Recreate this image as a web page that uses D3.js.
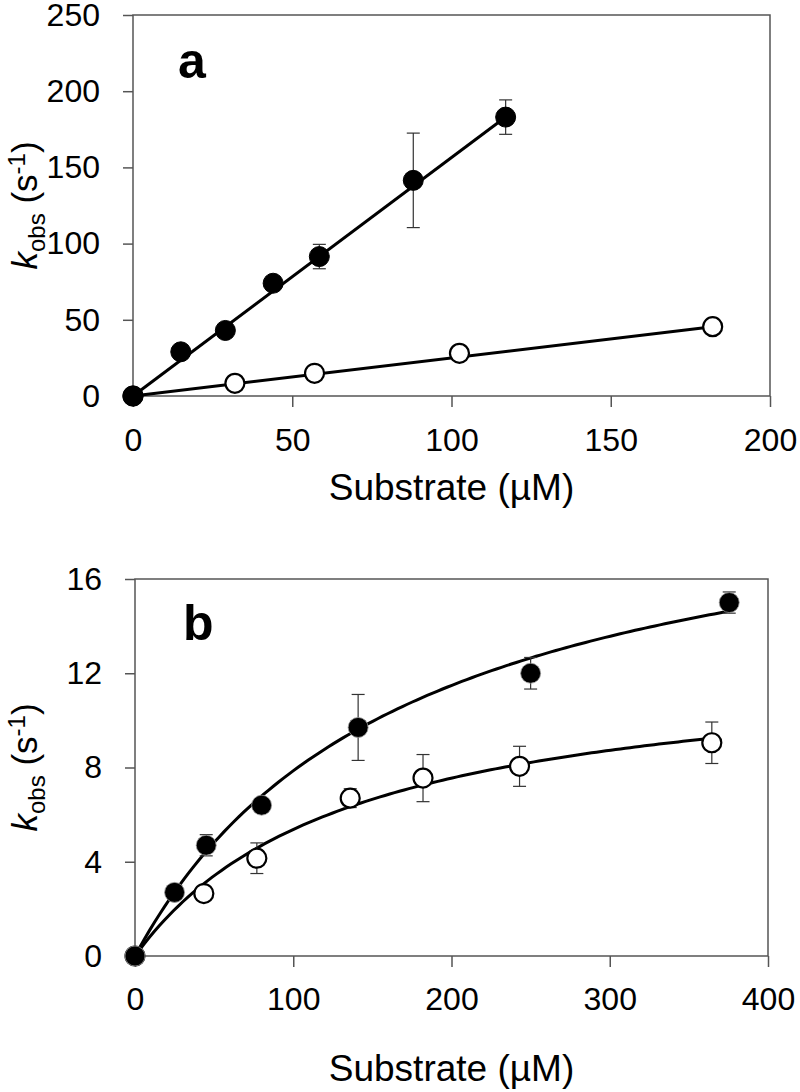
<!DOCTYPE html>
<html>
<head>
<meta charset="utf-8">
<script src="https://cdn.jsdelivr.net/npm/d3@7"></script>
<style>
  body { margin: 0; background: #fff; }
  svg { display: block; font-family: "Liberation Sans", Arial, sans-serif; }
</style>
</head>
<body>
<svg width="800" height="1092"></svg>
<script>
// panel a: linear fits
var aSubFilled = [0, 15, 29, 44, 58.5, 88, 117];
var aKobsFilled = [0, 29, 43, 74, 91.5, 141.5, 183];
var aErrFilled = [0, 0, 0, 0, 8, 31, 11.3];
var aSubOpen = [0, 32, 57, 102.5, 182];
var aKobsOpen = [0, 8.3, 14.9, 28, 45.5];
var aErrOpen = [0, 0, 0, 0, 4];
var aXTicks = [0, 50, 100, 150, 200];
var aYTicks = [0, 50, 100, 150, 200, 250];
var aFitFilled = {slope: 1.565, intercept: 0};
var aFitOpen = {slope: 0.25, intercept: 0};

// panel b: hyperbolic fits
var bSubFilled = [0, 25, 45, 80, 141, 250, 375.5];
var bKobsFilled = [0, 2.7, 4.7, 6.4, 9.7, 12.0, 15.0];
var bErrFilled = [0, 0, 0.45, 0, 1.4, 0.67, 0.45];
var bSubOpen = [0, 43.5, 77, 136, 182, 243, 364.5];
var bKobsOpen = [0, 2.65, 4.15, 6.7, 7.55, 8.05, 9.05];
var bErrOpen = [0, 0, 0.65, 0.4, 1.0, 0.85, 0.88];
var bXTicks = [0, 100, 200, 300, 400];
var bYTicks = [0, 4, 8, 12, 16];
var bFitFilled = {vmax: 21.3, km: 171};
var bFitOpen = {vmax: 12.7, km: 136.5};

var svg = d3.select("svg");

function zipPts(xs, ys, es) {
  return xs.map(function(x, i) { return {x: x, y: ys[i], e: es[i]}; });
}

function drawPanel(p) {
  var x = d3.scaleLinear().domain(p.xDomain).range([p.left, p.right]),
      y = d3.scaleLinear().domain(p.yDomain).range([p.bottom, p.top]);

  var g = svg.append("g");

  g.append("g")
      .attr("transform", "translate(0," + p.bottom + ")")
      .call(d3.axisBottom(x).tickValues(p.xTicks).tickSize(11).tickPadding(p.xPad))
      .call(function(a) { a.select(".domain").remove(); });

  g.append("g")
      .attr("transform", "translate(" + p.left + ",0)")
      .call(d3.axisLeft(y).tickValues(p.yTicks).tickSize(10).tickPadding(23))
      .call(function(a) { a.select(".domain").remove(); });

  g.selectAll(".tick line").attr("stroke", "#555").attr("stroke-width", 1.5);
  g.selectAll(".tick text")
      .attr("fill", "#000")
      .style("font-size", "32px")
      .style("font-family", "'Liberation Sans', Arial, sans-serif");

  g.append("rect")
      .attr("x", p.left).attr("y", p.top)
      .attr("width", p.right - p.left).attr("height", p.bottom - p.top)
      .attr("fill", "none").attr("stroke", "#555").attr("stroke-width", 1.5);

  // fit lines
  var line = d3.line().x(function(d) { return x(d[0]); }).y(function(d) { return y(d[1]); });
  p.fits.forEach(function(f) {
    var xs = f.samples ? d3.range(0, f.xmax, f.xmax / 120).concat([f.xmax]) : [0, f.xmax];
    g.append("path")
        .datum(xs.map(function(v) { return [v, f.fn(v)]; }))
        .attr("d", line)
        .attr("fill", "none")
        .attr("stroke", "#000")
        .attr("stroke-width", 3);
  });

  // error bars and markers
  p.series.forEach(function(s) {
    var pts = zipPts(s.x, s.y, s.e).filter(function(d) { return d.e > 0; });
    var eb = g.append("g").attr("stroke", "#333").attr("stroke-width", 1.2);
    eb.selectAll(".v").data(pts).enter().append("line")
        .attr("x1", function(d) { return x(d.x); }).attr("x2", function(d) { return x(d.x); })
        .attr("y1", function(d) { return y(d.y - d.e); }).attr("y2", function(d) { return y(d.y + d.e); });
    [-1, 1].forEach(function(sg) {
      eb.selectAll(".c" + sg).data(pts).enter().append("line")
          .attr("x1", function(d) { return x(d.x) - 6.5; }).attr("x2", function(d) { return x(d.x) + 6.5; })
          .attr("y1", function(d) { return y(d.y + sg * d.e); }).attr("y2", function(d) { return y(d.y + sg * d.e); });
    });
  });
  p.series.forEach(function(s) {
    g.selectAll(null).data(zipPts(s.x, s.y, s.e)).enter().append("circle")
        .attr("cx", function(d) { return x(d.x); })
        .attr("cy", function(d) { return y(d.y); })
        .attr("r", s.filled ? 10 : 9.5)
        .attr("fill", s.filled ? "#000" : "#fff")
        .attr("stroke", s.filled ? (s.ring ? "#999" : "#000") : "#000")
        .attr("stroke-width", s.filled ? (s.ring ? 0.8 : 1) : 2.2);
  });

  // panel letter
  g.append("text")
      .attr("x", p.left + p.letterDx).attr("y", p.top + p.letterDy)
      .style("font-size", "50px").style("font-weight", "bold")
      .text(p.letter);

  // axis titles
  g.append("text")
      .attr("x", (p.left + p.right) / 2).attr("y", p.titleY)
      .attr("text-anchor", "middle")
      .style("font-size", "37px")
      .text("Substrate (µM)");

  var yt = g.append("text")
      .attr("transform", "translate(37," + (p.top + p.bottom) / 2 + ") rotate(-90)")
      .attr("text-anchor", "middle")
      .style("font-size", "35px");
  yt.append("tspan").style("font-style", "italic").text("k");
  yt.append("tspan").attr("dy", 8).style("font-size", "24px").text("obs");
  yt.append("tspan").attr("dy", -8).text(" (s");
  yt.append("tspan").attr("dy", -12).style("font-size", "24px").text("-1");
  yt.append("tspan").attr("dy", 12).text(")");
}

drawPanel({
  xDomain: [0, 200], yDomain: [0, 250],
  left: 133, right: 770, top: 15, bottom: 396,
  xTicks: aXTicks, yTicks: aYTicks, xPad: 21,
  letter: "a", letterDx: 45, letterDy: 63, titleY: 500,
  fits: [
    {xmax: aSubFilled[aSubFilled.length - 1], fn: function(v) { return aFitFilled.intercept + aFitFilled.slope * v; }},
    {xmax: aSubOpen[aSubOpen.length - 1], fn: function(v) { return aFitOpen.intercept + aFitOpen.slope * v; }}
  ],
  series: [
    {x: aSubOpen, y: aKobsOpen, e: aErrOpen, filled: false},
    {x: aSubFilled, y: aKobsFilled, e: aErrFilled, filled: true}
  ]
});

drawPanel({
  xDomain: [0, 400], yDomain: [0, 16],
  left: 135, right: 768, top: 579, bottom: 956,
  xTicks: bXTicks, yTicks: bYTicks, xPad: 20,
  letter: "b", letterDx: 48, letterDy: 61, titleY: 1081,
  fits: [
    {samples: true, xmax: bSubFilled[bSubFilled.length - 1], fn: function(v) { return bFitFilled.vmax * v / (bFitFilled.km + v); }},
    {samples: true, xmax: bSubOpen[bSubOpen.length - 1], fn: function(v) { return bFitOpen.vmax * v / (bFitOpen.km + v); }}
  ],
  series: [
    {x: bSubOpen, y: bKobsOpen, e: bErrOpen, filled: false},
    {x: bSubFilled, y: bKobsFilled, e: bErrFilled, filled: true, ring: true}
  ]
});
</script>
</body>
</html>
